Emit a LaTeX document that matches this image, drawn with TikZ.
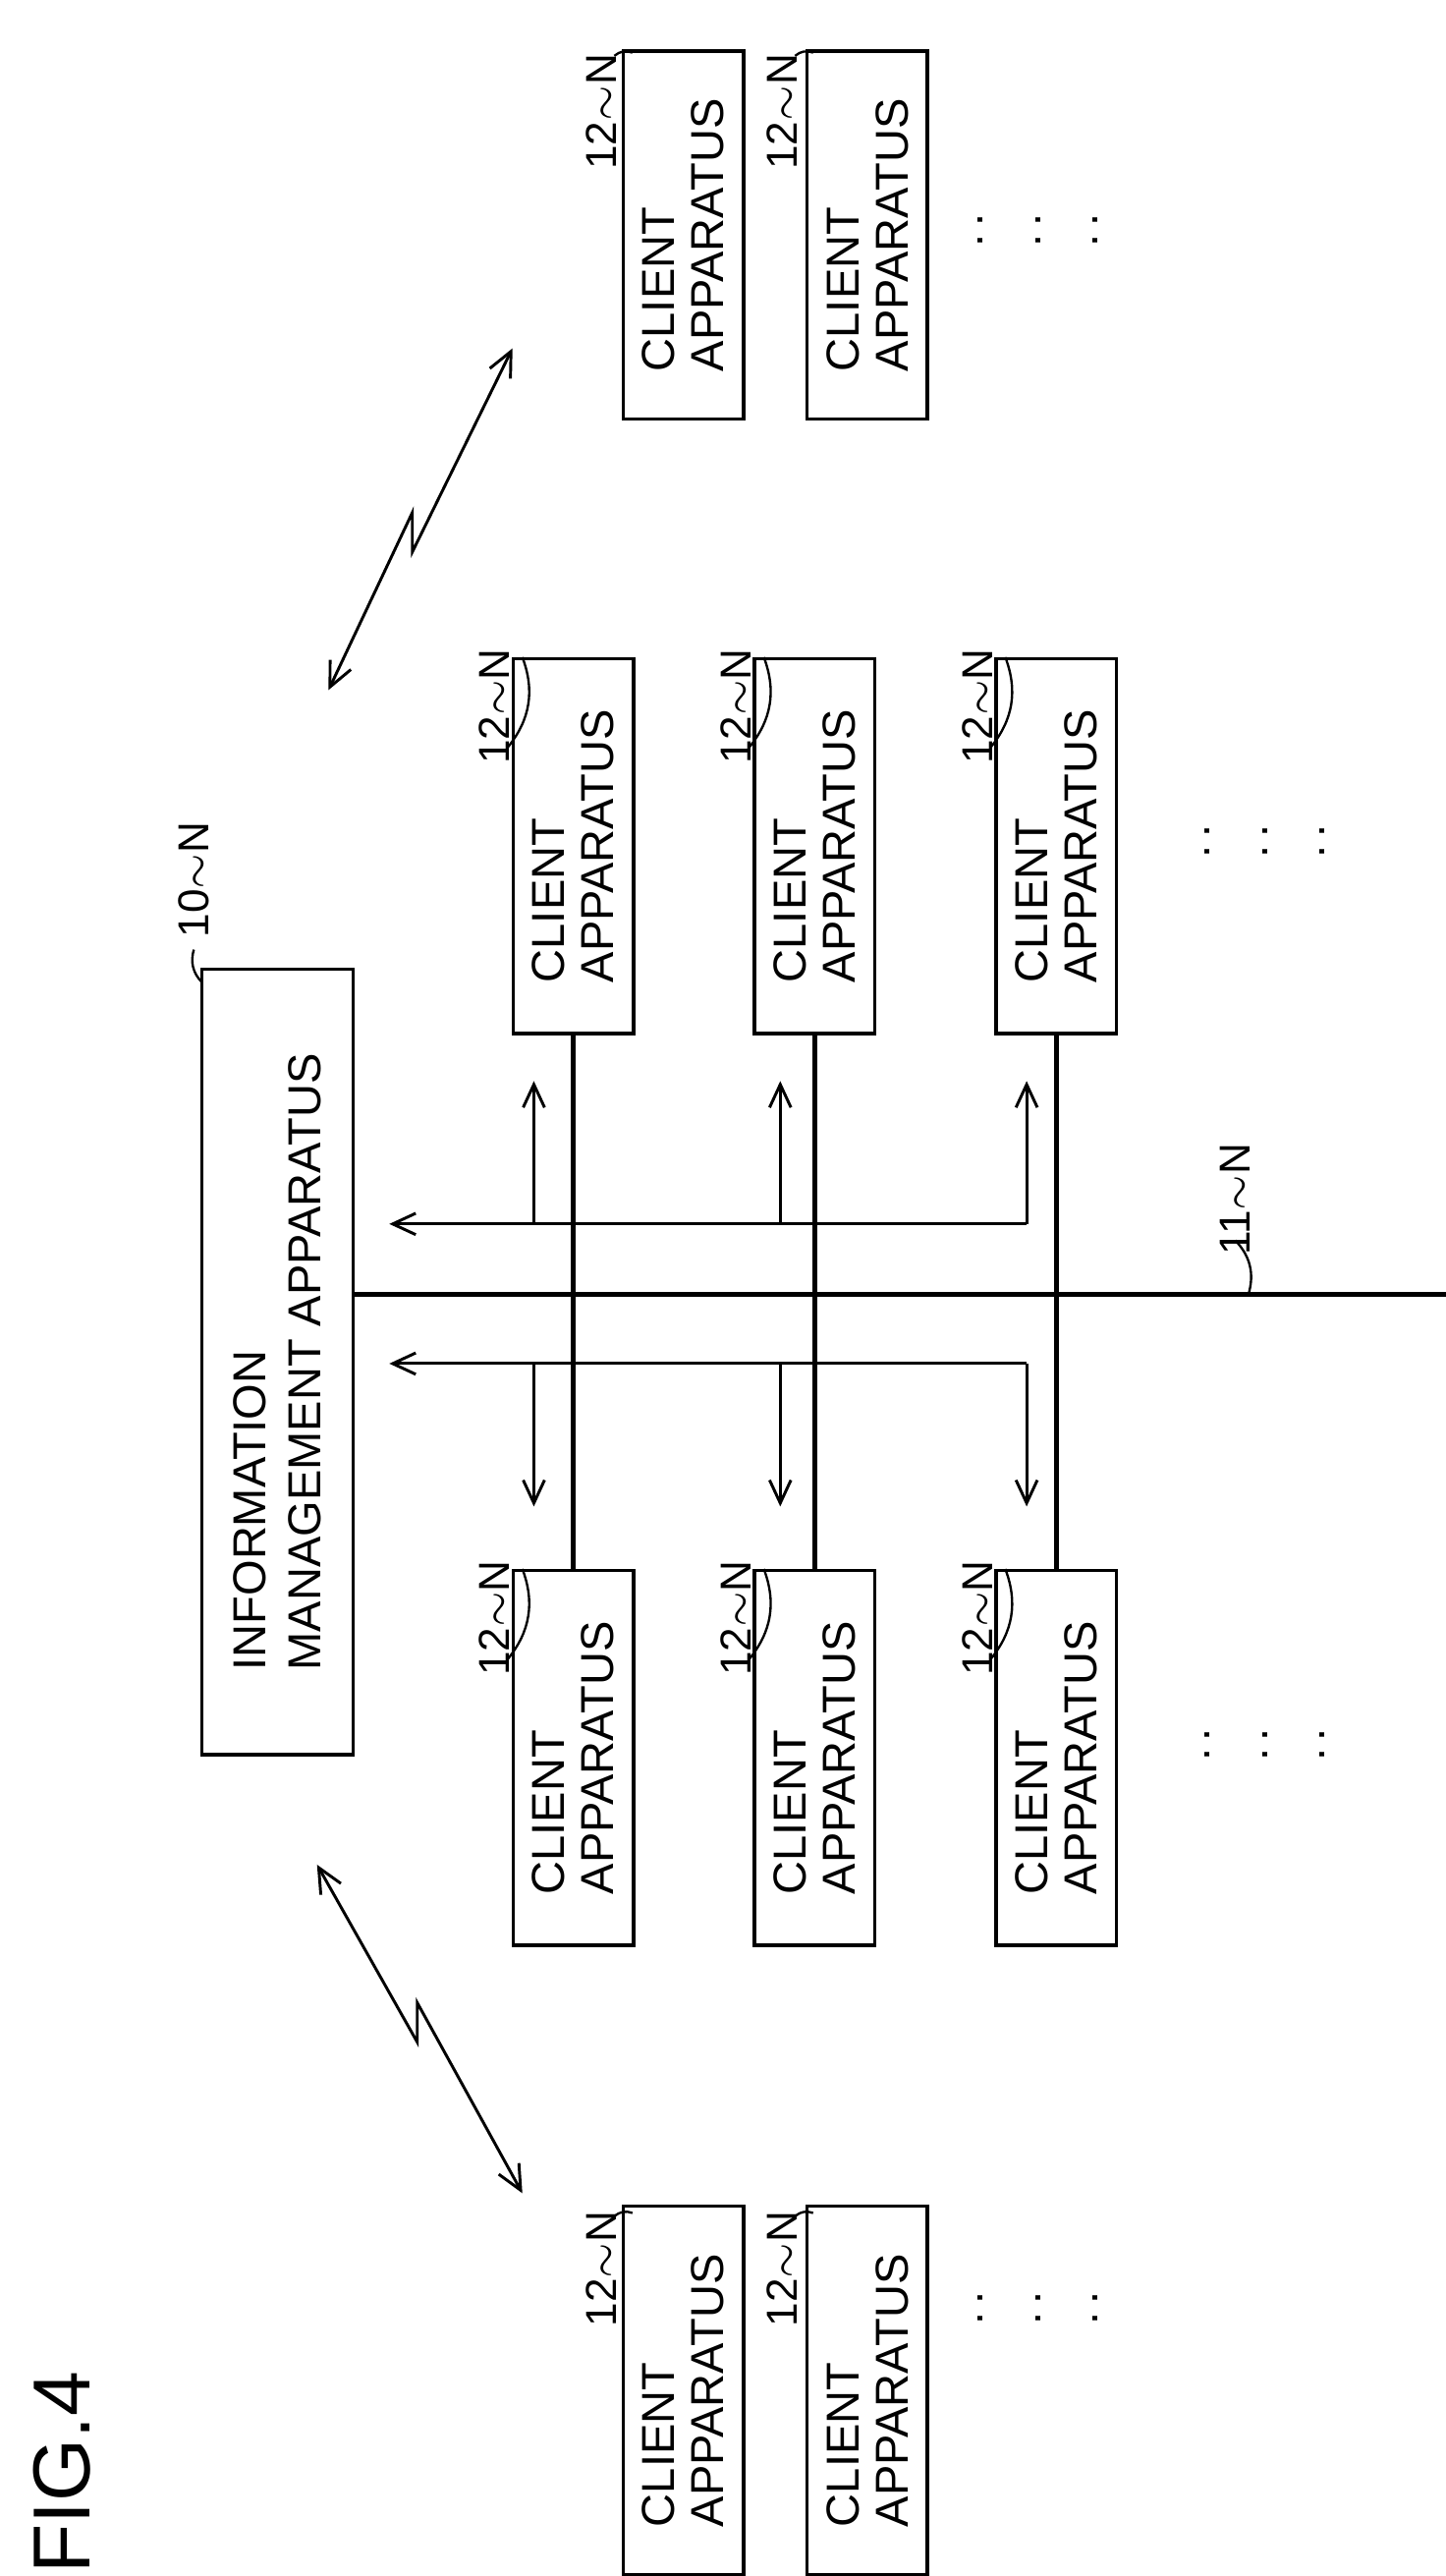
\documentclass[tikz,border=0pt]{standalone}
\usepackage{fontspec}
\setmainfont{Liberation Sans}
\usetikzlibrary{arrows.meta}
\tikzset{
  client/.style={draw, rotate=90, minimum width=2.28cm, minimum height=0.62cm, align=left, font=\fontsize{8}{8.5}\selectfont, line width=0.6pt},
  refl/.style={rotate=90, font=\fontsize{7.5}{8}\selectfont, inner sep=1pt},
  bus/.style={line width=0.8pt},
  tip/.style={-{Straight Barb[length=1.4mm,width=1.3mm]}},
  sig/.style={line width=0.5pt, {Straight Barb[length=1.5mm,width=1.4mm]}-{Straight Barb[length=1.5mm,width=1.4mm]}},
  flow/.style={line width=0.5pt},
  dots/.style={rotate=90, font=\fontsize{8}{8}\selectfont}
}
\begin{document}
\begin{tikzpicture}[x=0.01cm, y=-0.01cm]
\useasboundingbox (0,0) rectangle (880,1568);
% information management apparatus
\node[draw, rotate=90, minimum width=4.78cm, minimum height=0.92cm, align=left, font=\fontsize{8}{9.5}\selectfont, line width=0.6pt] (ima) at (169,829) {INFORMATION\\MANAGEMENT APPARATUS};
\node[refl, anchor=west] (l10) at (118,575) {10$\sim$N};
\draw (123,598) to[bend left=30] (118,578);
% network line
\draw[bus] (215,788) coordinate (b0) -- (880,788) coordinate (b1);
\node[refl] (l11) at (752,730) {11$\sim$N};
\draw (760,788) to[bend right=30] (752,755);
% clients around network
\foreach \n/\x in {a/349, b/496, c/643} {
  \node[client] (u\n) at (\x,515) {CLIENT\\APPARATUS};
  \node[client] (d\n) at (\x,1070) {CLIENT\\APPARATUS};
  \draw[bus] (u\n.west) -- (d\n.east);
  \node[refl] (lu\n) at (\x-48,430) {12$\sim$N};
  \node[refl] (ld\n) at (\x-48,985) {12$\sim$N};
  \draw (\x-31,400) to[bend left=30] (\x-40,455);
  \draw (\x-31,955) to[bend left=30] (\x-40,1010);
}
% data flow arrows
\draw[flow, tip] (625,745) -- (237,745);
\draw[flow, tip] (625,830) -- (237,830);
\foreach \x in {325, 475, 625} {
  \draw[flow, tip] (\x,745) -- (\x,658);
  \draw[flow, tip] (\x,830) -- (\x,917);
}
% remote clients
\foreach \n/\x/\y in {p/416/143, q/528/143, r/416/1455, s/528/1455} {
  \node[client, minimum width=2.24cm] (\n) at (\x,\y) {CLIENT\\APPARATUS};
}
\node[refl] at (366,68) {12$\sim$N};
\node[refl] at (476,68) {12$\sim$N};
\node[refl] at (366,1381) {12$\sim$N};
\node[refl] at (476,1381) {12$\sim$N};
\draw (385,32) to[bend right=30] (374,34);
\draw (495,32) to[bend right=30] (484,34);
\draw (385,1347) to[bend right=30] (374,1349);
\draw (495,1347) to[bend right=30] (484,1349);
% wireless links
\draw[sig] (200,420) -- (251,312) -- (251,336) -- (312,212);
\draw[sig] (193,1135) -- (254,1243) -- (254,1219) -- (318,1335);
% continuation dots
\foreach \x in {597,632,667} {
  \node[dots] at (\x,140) {.\,.};
  \node[dots] at (\x,1405) {.\,.};
}
\foreach \x in {735,770,805} {
  \node[dots] at (\x,512) {.\,.};
  \node[dots] at (\x,1062) {.\,.};
}
\node[rotate=90, font=\fontsize{14}{14}\selectfont] (fig) at (38,1505) {FIG.4};
\end{tikzpicture}
\end{document}
